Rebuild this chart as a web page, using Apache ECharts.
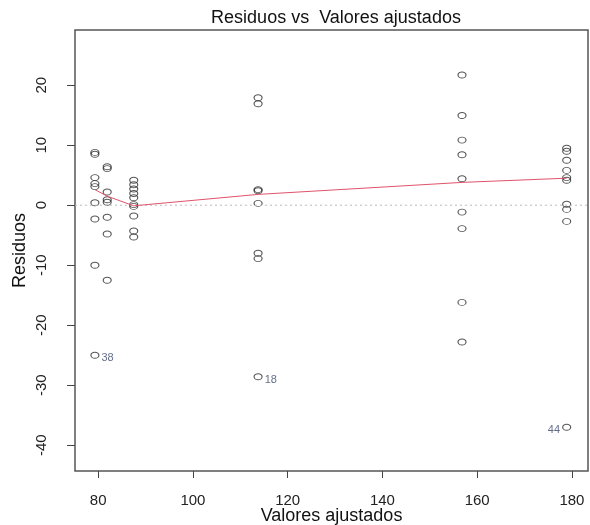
<!DOCTYPE html>
<html>
<head>
<meta charset="utf-8">
<script src="https://cdn.jsdelivr.net/npm/echarts@6.0.0/dist/echarts.min.js"></script>
<style>
  html, body { margin: 0; padding: 0; background: #fff; }
  #chart { width: 590px; height: 525px; }
</style>
</head>
<body>
<div id="chart"></div>
<script>
// fitted values (x) and residuals (y), read column by column
const fitted = [
  79.3, 79.3, 79.3, 79.3, 79.3, 79.3, 79.3, 79.3,
  81.9, 81.9, 81.9, 81.9, 81.9, 81.9, 81.9, 81.9,
  87.5, 87.5, 87.5, 87.5, 87.5, 87.5, 87.5, 87.5, 87.5, 87.5,
  113.75, 113.75, 113.75, 113.75, 113.75, 113.75, 113.75,
  156.8, 156.8, 156.8, 156.8, 156.8, 156.8, 156.8, 156.8, 156.8,
  178.9, 178.9, 178.9, 178.9, 178.9, 178.9, 178.9, 178.9, 178.9
];
const residuals = [
  8.8, 8.5, 4.6, 3.6, 3.1, 0.4, -2.3, -10.0,
  6.4, 6.1, 2.2, 0.9, 0.5, -2.0, -4.8, -12.5,
  4.15, 3.4, 2.7, 1.95, 1.25, 0.1, -0.2, -1.8, -4.3, -5.3,
  17.9, 16.9, 2.6, 2.4, 0.3, -8.0, -8.9,
  21.7, 14.95, 10.85, 8.4, 4.4, -1.15, -3.9, -16.2, -22.8,
  9.5, 9.0, 7.5, 5.8, 4.6, 4.15, 0.15, -0.7, -2.7
];
// labelled outliers
const outlierIds = ['38', '18', '44'];
const outlierX = [79.3, 113.75, 178.9];
const outlierY = [-25.0, -28.6, -37.0];
const outlierSide = ['right', 'right', 'left'];
// lowess smoother
const smoothX = [79.3, 81.9, 87.5, 113.75, 156.8, 178.9];
const smoothY = [2.6, 1.5, -0.1, 1.8, 3.8, 4.5];
// ticks
const xTicks = [80, 100, 120, 140, 160, 180];
const yTicks = [-40, -30, -20, -10, 0, 10, 20];

const font = 'Liberation Sans, Arial, sans-serif';
const chart = echarts.init(document.getElementById('chart'), null, { renderer: 'canvas' });

const pointStyle = { color: 'transparent', borderColor: '#2a2a2a', borderWidth: 1 };

const option = {
  animation: false,
  title: {
    text: 'Residuos vs  Valores ajustados',
    left: 331, textAlign: 'center', top: 4,
    textStyle: { fontFamily: font, fontSize: 18, fontWeight: 'normal', color: '#111' }
  },
  grid: {
    left: 75, right: 2, top: 30, bottom: 54,
    outerBoundsMode: 'none',
    show: true, borderColor: '#555', borderWidth: 1.5, backgroundColor: '#fff'
  },
  xAxis: {
    type: 'value', min: 75.1, max: 183.4,
    name: 'Valores ajustados', nameLocation: 'middle', nameGap: 36, nameMoveOverlap: false,
    nameTextStyle: { fontFamily: font, fontSize: 18, color: '#111' },
    splitLine: { show: false },
    axisLine: { show: false, onZero: false },
    axisTick: { show: true, length: 7, customValues: xTicks, lineStyle: { color: '#444' } },
    axisLabel: { customValues: xTicks, margin: 22, fontFamily: font, fontSize: 15, color: '#222' }
  },
  yAxis: {
    type: 'value', min: -44.3, max: 29.2,
    name: 'Residuos', nameLocation: 'middle', nameGap: 46, nameMoveOverlap: false,
    nameTextStyle: { fontFamily: font, fontSize: 18, color: '#111' },
    splitLine: { show: false },
    axisLine: { show: false, onZero: false },
    axisTick: { show: true, length: 8, customValues: yTicks, lineStyle: { color: '#444' } },
    axisLabel: { customValues: yTicks, rotate: 90, margin: 26, fontFamily: font, fontSize: 15, color: '#222' }
  },
  series: [
    {
      type: 'line',
      data: [[75.1, 0], [183.4, 0]],
      symbol: 'none', silent: true,
      lineStyle: { color: '#bbb', width: 1, type: [2, 3] }
    },
    {
      type: 'line',
      data: smoothX.map((x, i) => [x, smoothY[i]]),
      symbol: 'none', silent: true,
      lineStyle: { color: '#df536b', width: 1 }
    },
    {
      type: 'scatter',
      data: fitted.map((x, i) => [x, residuals[i]]),
      symbol: 'circle', symbolSize: [8, 6],
      itemStyle: pointStyle
    },
    {
      type: 'scatter',
      data: outlierX.map((x, i) => ({
        value: [x, outlierY[i]],
        label: {
          show: true, formatter: outlierIds[i], position: outlierSide[i],
          distance: 2, offset: [0, 3]
        }
      })),
      symbol: 'circle', symbolSize: [8, 6],
      itemStyle: pointStyle,
      label: { fontFamily: font, fontSize: 11, color: '#3b4a6b' }
    }
  ]
};
chart.setOption(option);
</script>
</body>
</html>
